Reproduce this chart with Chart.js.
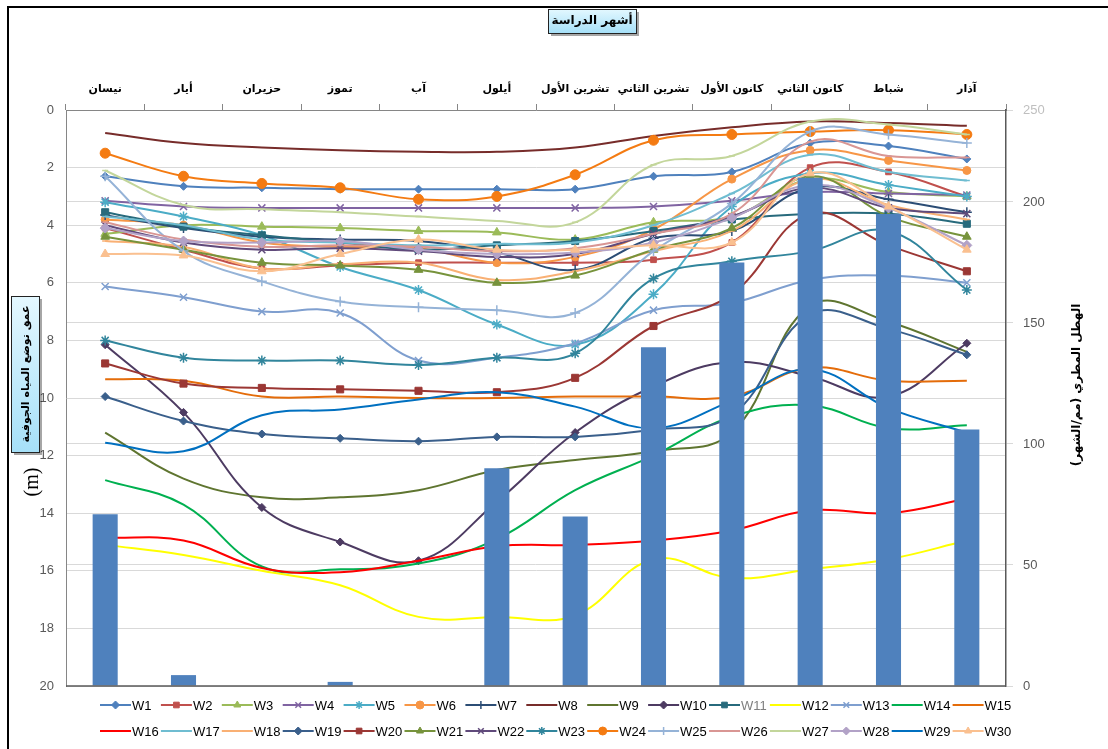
<!DOCTYPE html>
<html>
<head>
<meta charset="utf-8">
<script src="https://cdn.jsdelivr.net/npm/chart.js@4.4.1/dist/chart.umd.min.js"></script>
<style>
    body { margin: 0; background: #fff; }
    #wrap { position: relative; width: 1108px; height: 749px; }
</style>
</head>
<body>
<div id="wrap"><canvas id="myChart" width="1108" height="749"></canvas></div>
<script>
// months, left to right as on the chart
const months = ['نيسان', 'أيار', 'حزيران', 'تموز', 'آب', 'أيلول', 'تشرين الأول', 'تشرين الثاني', 'كانون الأول', 'كانون الثاني', 'شباط', 'آذار'];

// rainfall (mm/month), right axis
const rain = [71, 4.5, 0, 1.7, 0, 90, 70, 140, 175, 210, 195, 106];

// depth to groundwater (m), left axis
const W1 = [2.3, 2.65, 2.7, 2.75, 2.75, 2.75, 2.75, 2.3, 2.15, 1.15, 1.25, 1.7];
const W2 = [4.1, 4.85, 5.5, 5.4, 5.3, 5.3, 5.3, 5.2, 4.6, 2.0, 2.15, 3.0];
const W3 = [4.3, 4.0, 4.05, 4.1, 4.2, 4.25, 4.5, 3.9, 3.7, 2.4, 2.85, 3.0];
const W4 = [3.15, 3.35, 3.4, 3.4, 3.4, 3.4, 3.4, 3.35, 3.15, 2.85, 2.9, 2.95];
const W5 = [3.2, 3.7, 4.35, 5.45, 6.25, 7.45, 8.15, 6.4, 3.35, 2.2, 2.6, 3.0];
const W6 = [3.8, 4.0, 4.6, 4.75, 4.8, 5.3, 5.1, 4.15, 2.4, 1.4, 1.75, 2.1];
const W7 = [3.65, 4.1, 4.4, 4.5, 4.55, 4.95, 5.55, 4.45, 4.2, 2.7, 3.1, 3.55];
const W8 = [0.8, 1.15, 1.3, 1.4, 1.45, 1.45, 1.3, 0.9, 0.6, 0.4, 0.45, 0.55];
const W9 = [11.2, 12.8, 13.45, 13.45, 13.2, 12.5, 12.15, 11.85, 11.2, 6.8, 7.35, 8.4];
const W10 = [8.15, 10.5, 13.8, 15.0, 15.65, 13.6, 11.2, 9.6, 8.75, 9.25, 9.95, 8.1];
const W11 = [3.55, 4.05, 4.35, 4.6, 4.85, 4.7, 4.55, 4.2, 3.8, 3.6, 3.6, 3.95];
const W12 = [15.1, 15.45, 16.0, 16.5, 17.6, 17.6, 17.55, 15.6, 16.25, 15.95, 15.6, 14.95];
const W13 = [6.13, 6.5, 7.0, 7.05, 8.7, 8.6, 8.1, 6.95, 6.7, 5.9, 5.75, 6.0];
const W14 = [12.85, 13.7, 15.85, 15.95, 15.75, 14.9, 13.2, 12.0, 10.65, 10.25, 11.05, 10.95];
const W15 = [9.35, 9.4, 9.95, 9.95, 10.0, 10.0, 9.95, 9.95, 9.95, 8.95, 9.4, 9.4];
const W16 = [14.85, 14.95, 15.9, 16.05, 15.65, 15.15, 15.1, 14.95, 14.6, 13.9, 14.0, 13.5];
const W17 = [3.7, 4.0, 4.5, 4.6, 4.7, 4.65, 4.6, 4.0, 2.9, 1.55, 2.15, 2.45];
const W18 = [4.55, 4.75, 5.5, 5.35, 5.3, 5.9, 5.6, 4.9, 4.2, 2.4, 3.3, 3.8];
const W19 = [9.95, 10.8, 11.25, 11.4, 11.5, 11.35, 11.35, 11.1, 10.6, 7.1, 7.6, 8.5];
const W20 = [8.8, 9.5, 9.65, 9.7, 9.75, 9.8, 9.3, 7.5, 6.4, 3.6, 4.7, 5.6];
const W21 = [4.4, 4.85, 5.3, 5.4, 5.55, 6.0, 5.75, 4.85, 4.1, 2.3, 3.7, 4.4];
const W22 = [4.0, 4.6, 4.85, 4.8, 4.9, 5.1, 5.0, 4.3, 3.7, 2.7, 3.4, 3.6];
const W23 = [8.0, 8.6, 8.7, 8.7, 8.85, 8.6, 8.45, 5.85, 5.25, 4.9, 4.2, 6.25];
const W24 = [1.5, 2.3, 2.55, 2.7, 3.1, 3.0, 2.25, 1.05, 0.85, 0.75, 0.7, 0.85];
const W25 = [2.3, 4.9, 5.95, 6.65, 6.85, 6.95, 7.05, 4.9, 3.25, 0.75, 0.85, 1.15];
const W26 = [3.9, 4.5, 4.75, 4.7, 4.75, 4.9, 4.8, 4.3, 3.6, 1.1, 1.6, 1.65];
const W27 = [2.1, 3.3, 3.45, 3.55, 3.7, 3.85, 3.9, 1.9, 1.6, 0.4, 0.5, 0.85];
const W28 = [4.1, 4.55, 4.6, 4.55, 4.85, 5.0, 4.95, 4.6, 3.75, 2.6, 3.4, 4.7];
const W29 = [11.55, 11.85, 10.6, 10.4, 10.05, 9.8, 10.3, 11.05, 10.1, 9.0, 10.35, 11.2];
const W30 = [5.0, 5.05, 5.6, 5.0, 4.5, 4.85, 4.85, 4.7, 4.6, 2.2, 3.35, 4.85];

const wells = [W1, W2, W3, W4, W5, W6, W7, W8, W9, W10, W11, W12, W13, W14, W15,
    W16, W17, W18, W19, W20, W21, W22, W23, W24, W25, W26, W27, W28, W29, W30];

// [colour, marker, radius]
const styles = [
    ['#4F81BD', 'rectRot', 4], ['#C0504D', 'rect', 4], ['#9BBB59', 'triangle', 5], ['#8064A2', 'crossRot', 5],
    ['#4BACC6', 'star', 5], ['#F79646', 'circle', 4], ['#2C4D75', 'cross', 5], ['#772C2A', false, 0],
    ['#5F7530', false, 0], ['#4D3B62', 'rectRot', 4], ['#276A7C', 'rect', 5], ['#FFFF00', false, 0],
    ['#7F9FCF', 'crossRot', 5], ['#00B050', false, 0], ['#E46C0A', false, 0], ['#FF0000', false, 0],
    ['#6FBDD1', 'line', 3], ['#F9B074', 'line', 3], ['#3A5F8B', 'rectRot', 4], ['#9B3734', 'rect', 5],
    ['#77933C', 'triangle', 5], ['#604A7B', 'crossRot', 5], ['#31859C', 'star', 5], ['#F47B12', 'circle', 5],
    ['#95B3D7', 'cross', 5], ['#D99694', 'line', 3], ['#C3D69B', 'line', 3], ['#B2A2C7', 'rectRot', 5],
    ['#0070C0', false, 0], ['#FAC090', 'triangle', 5]
];

const datasets = wells.map(function (d, i) {
    const s = styles[i];
    return {
        type: 'line',
        label: 'W' + (i + 1),
        data: d,
        yAxisID: 'y',
        borderColor: s[0],
        backgroundColor: s[0],
        borderWidth: 2,
        tension: 0.4,
        pointStyle: s[1],
        pointRadius: s[2],
        pointBorderWidth: (s[1] === 'cross' || s[1] === 'crossRot' || s[1] === 'star' || s[1] === 'line') ? 1.5 : 1,
        pointBackgroundColor: s[0],
        pointBorderColor: s[0],
        order: 31 - i
    };
});

datasets.push({
    type: 'bar',
    label: 'rain',
    data: rain,
    yAxisID: 'y2',
    backgroundColor: '#4F81BD',
    categoryPercentage: 1,
    barPercentage: 0.32,
    order: 0
});

function box(ctx, x, y, w, h) {
    ctx.save();
    ctx.fillStyle = 'rgba(0,0,0,0.35)';
    ctx.fillRect(x + 3, y + 3, w, h);
    const g = ctx.createLinearGradient(x, y, x, y + h);
    g.addColorStop(0, '#E4F8FF');
    g.addColorStop(1, '#A6E0F8');
    ctx.fillStyle = g;
    ctx.fillRect(x, y, w, h);
    ctx.strokeStyle = '#222';
    ctx.lineWidth = 1;
    ctx.strokeRect(x + 0.5, y + 0.5, w, h);
    ctx.restore();
}

const decor = {
    id: 'decor',
    beforeDraw: function (chart) {
        const ctx = chart.ctx;
        ctx.save();
        ctx.fillStyle = '#fff';
        ctx.fillRect(0, 0, chart.width, chart.height);
        ctx.restore();
    },
    afterDraw: function (chart) {
        const ctx = chart.ctx;
        const a = chart.chartArea;
        ctx.save();
        // bottom edge of plot
        ctx.strokeStyle = '#595959';
        ctx.lineWidth = 1.5;
        ctx.beginPath();
        ctx.moveTo(a.left, a.bottom);
        ctx.lineTo(a.right, a.bottom);
        ctx.stroke();

        // outer frame
        ctx.strokeStyle = '#000';
        ctx.lineWidth = 2;
        ctx.strokeRect(8, 7, 1110, 760);

        // top title
        box(ctx, 548, 9, 88, 24);
        ctx.fillStyle = '#000';
        ctx.font = 'bold 12px "DejaVu Sans"';
        ctx.textAlign = 'center';
        ctx.textBaseline = 'middle';
        ctx.fillText('أشهر الدراسة', 592, 21);

        // left axis title
        box(ctx, 11, 296, 28, 156);
        ctx.save();
        ctx.translate(25, 374);
        ctx.rotate(-Math.PI / 2);
        ctx.fillStyle = '#000';
        ctx.font = 'bold 11px "DejaVu Sans"';
        ctx.fillText('عمق توضع المياه الجوفية', 0, 1);
        ctx.restore();

        ctx.save();
        ctx.translate(33, 482);
        ctx.rotate(-Math.PI / 2);
        ctx.font = '20px "Liberation Serif"';
        ctx.fillText('(m)', 0, 0);
        ctx.restore();

        // right axis title
        ctx.save();
        ctx.translate(1077, 385);
        ctx.rotate(-Math.PI / 2);
        ctx.font = 'bold 12px "DejaVu Sans"';
        ctx.fillText('الهطل المطري (مم/الشهر)', 0, 0);
        ctx.restore();

        // legend, two rows of 15
        ctx.font = '13px "Liberation Sans"';
        ctx.textAlign = 'left';
        chart.data.datasets.forEach(function (ds, i) {
            if (ds.type !== 'line') return;
            const row = Math.floor(i / 15);
            const x = 100 + (i % 15) * 60.9;
            const y = 705 + row * 26;
            ctx.strokeStyle = ds.borderColor;
            ctx.lineWidth = 2;
            ctx.beginPath();
            ctx.moveTo(x, y);
            ctx.lineTo(x + 31, y);
            ctx.stroke();
            if (ds.pointStyle) {
                ctx.fillStyle = ds.borderColor;
                ctx.lineWidth = ds.pointBorderWidth;
                Chart.helpers.drawPoint(ctx, {
                    pointStyle: ds.pointStyle,
                    radius: Math.min(ds.pointRadius, 4),
                    rotation: 0,
                    borderWidth: ds.pointBorderWidth
                }, x + 15.5, y);
            }
            ctx.fillStyle = i === 10 ? '#7F7F7F' : '#000';
            ctx.fillText(ds.label, x + 32, y + 1);
        });
        ctx.restore();
    }
};

const ctx = document.getElementById('myChart').getContext('2d');
const myChart = new Chart(ctx, {
    type: 'bar',
    data: {
        labels: months,
        datasets: datasets
    },
    options: {
        responsive: false,
        animation: false,
        layout: { padding: { left: 0, right: 0, top: 0, bottom: 63 } },
        plugins: {
            legend: { display: false },
            tooltip: { enabled: false }
        },
        scales: {
            x: {
                position: 'top',
                offset: true,
                grid: { offset: true, drawOnChartArea: false, color: '#868686', tickLength: 6 },
                border: { color: '#868686' },
                ticks: {
                    color: '#000',
                    font: { family: 'DejaVu Sans', weight: 'bold', size: 11 },
                    padding: 8,
                    maxRotation: 0,
                    autoSkip: false
                },
                afterFit: function (s) { s.height = 110; }
            },
            y: {
                position: 'left',
                reverse: true,
                min: 0,
                max: 20,
                ticks: { stepSize: 2, color: '#595959', font: { family: 'Liberation Sans', size: 13 }, padding: 12 },
                grid: { color: '#D9D9D9', tickLength: 0 },
                border: { color: '#868686' },
                afterFit: function (s) { s.width = 66; }
            },
            y2: {
                position: 'right',
                min: 0,
                max: 238,
                ticks: {
                    stepSize: 50,
                    color: function (c) { return c.tick.value > 230 ? '#BFBFBF' : '#595959'; },
                    font: { family: 'Liberation Sans', size: 13 },
                    padding: 10,
                    callback: function (v) { return v > 230 ? '250' : v; }
                },
                grid: { color: '#D9D9D9', tickLength: 7 },
                border: { color: '#595959', width: 1.5 },
                afterFit: function (s) { s.width = 102; }
            }
        }
    },
    plugins: [decor]
});
</script>
</body>
</html>
